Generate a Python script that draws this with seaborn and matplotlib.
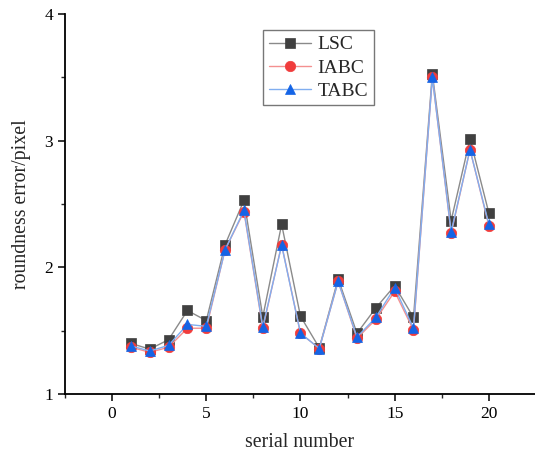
import matplotlib
matplotlib.use("Agg")
import matplotlib.pyplot as plt
import pandas as pd
import seaborn as sns
from matplotlib.ticker import MultipleLocator

serial = list(range(1, 21))
lsc = [1.40, 1.355, 1.43, 1.66, 1.58, 2.18, 2.53, 1.61, 2.34, 1.615,
       1.365, 1.91, 1.48, 1.68, 1.855, 1.605, 3.53, 2.37, 3.015, 2.43]
iabc = [1.37, 1.33, 1.37, 1.52, 1.52, 2.14, 2.44, 1.52, 2.18, 1.48,
        1.36, 1.89, 1.44, 1.59, 1.81, 1.505, 3.50, 2.27, 2.93, 2.33]
tabc = [1.38, 1.34, 1.385, 1.55, 1.535, 2.14, 2.45, 1.53, 2.175, 1.48,
        1.36, 1.89, 1.45, 1.605, 1.84, 1.52, 3.50, 2.28, 2.93, 2.34]

df = pd.DataFrame({"serial": serial, "LSC": lsc, "IABC": iabc, "TABC": tabc})

sns.set_theme(style="ticks")
plt.rcParams["font.family"] = ["Liberation Serif", "DejaVu Serif"]

fig = plt.figure(figsize=(5.35, 4.53), dpi=100)
ax = fig.add_axes([0.1215, 0.130, 0.8785, 0.839])

styles = [
    ("LSC", "s", "#8a8a8a", "#404040"),
    ("IABC", "o", "#f49090", "#f03c3c"),
    ("TABC", "^", "#80aef0", "#1464e6"),
]
for name, mk, lc, mc in styles:
    sns.lineplot(data=df, x="serial", y=name, ax=ax, label=name,
                 color=lc, linewidth=1.0, marker=mk, markersize=7.5,
                 markerfacecolor=mc, markeredgecolor=mc, markeredgewidth=0.5)

ax.set_xlim(-2.5, 22.45)
ax.set_ylim(1, 4)
ax.xaxis.set_major_locator(MultipleLocator(5))
ax.xaxis.set_minor_locator(MultipleLocator(2.5))
ax.yaxis.set_major_locator(MultipleLocator(1))
ax.yaxis.set_minor_locator(MultipleLocator(0.5))
ax.tick_params(which="major", direction="out", length=5, width=1.1,
               labelsize=12.5, colors="black")
ax.tick_params(which="minor", direction="out", length=3, width=1.0)
for s in ["top", "right"]:
    ax.spines[s].set_visible(False)
for s in ["left", "bottom"]:
    ax.spines[s].set_color("black")
    ax.spines[s].set_linewidth(1.3)

ax.set_xlabel("serial number", fontsize=14.3, labelpad=8)
ax.set_ylabel("roundness error/pixel", fontsize=14.3, labelpad=10)

leg = ax.legend(loc="upper left", bbox_to_anchor=(0.421, 0.958),
                borderaxespad=0, fontsize=14, frameon=True, fancybox=False,
                edgecolor="#555555", handlelength=2.2, labelspacing=0.28,
                borderpad=0.3, handletextpad=0.3)
leg.get_frame().set_linewidth(1.0)

fig.savefig("out.png", dpi=100)
